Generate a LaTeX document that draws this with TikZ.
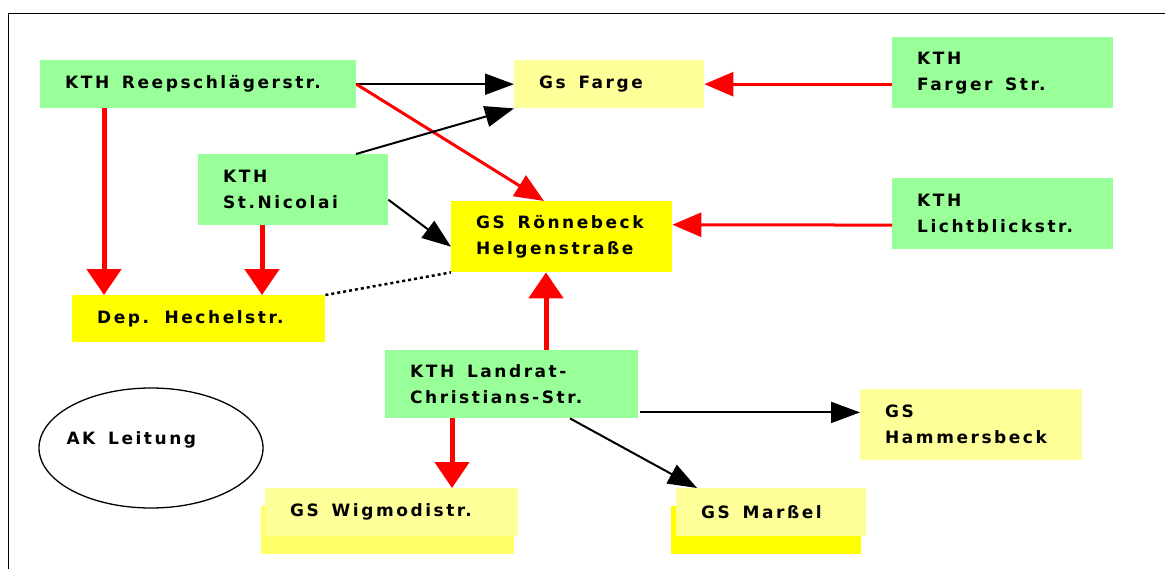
\documentclass[tikz,border=0pt]{standalone}
\usepackage{fontspec}
\setmainfont{DejaVu Sans}[LetterSpace=15, WordSpace=1.5]
\usepackage{tikz}
\usetikzlibrary{arrows.meta, positioning, calc, shapes.geometric, shadows}
\definecolor{cKth}{RGB}{153,255,153}
\definecolor{cGs}{RGB}{255,255,0}
\definecolor{cGsLight}{RGB}{255,255,153}
\definecolor{cShadow}{RGB}{255,255,102}
\tikzset{
	box/.style ={rectangle, anchor=north west, inner xsep=25pt, align=flush left, font=\fontsize{17}{26}\selectfont\bfseries},
	kth/.style ={box, fill=cKth},
	gs/.style  ={box, fill=cGs},
	gsl/.style ={box, fill=cGsLight},
	sig/.style ={-{Triangle[length=29pt, width=21pt]}, line width=2pt},
	rsig/.style={-{Triangle[length=29pt, width=24pt]}, line width=3pt, red},
	rbig/.style={-{Triangle[length=26pt, width=34pt]}, line width=5pt, red},
}
\begin{document}
\begin{tikzpicture}[x=1pt, y=-1pt]
	\useasboundingbox (0,0) rectangle (1165,568);
	\draw[line width=1.5pt] (8.5,590) |- (1190,13.5);
	\node[kth, text width=266pt, minimum height=48pt] (reep) at (40,60) {KTH Reepschlägerstr.};
	\node[gsl, text width=140pt, minimum height=48pt] (farge) at (514,60) {Gs Farge};
	\node[kth, text width=171pt, minimum height=71pt] (farger) at (892,37) {KTH\\Farger Str.};
	\node[kth, text width=171pt, minimum height=71pt, below=69pt of farger.south west, anchor=north west] (licht) {KTH\\Lichtblickstr.};
	\node[kth, text width=140pt, minimum height=71pt] (nico) at (198,154) {KTH\\St.Nicolai};
	\node[gs, text width=171pt, minimum height=71pt] (roen) at (451,201) {GS Rönnebeck\\Helgenstraße};
	\node[gs, text width=203pt, minimum height=47pt] (dep) at (72,295) {Dep. Hechelstr.};
	\node[kth, text width=203pt, minimum height=68pt] (land) at (385,350) {KTH Landrat-\\Christians-Str.};
	\node[gsl, text width=172pt, minimum height=71pt] (ham) at (860,389) {GS\\Hammersbeck};
	\node[gsl, general shadow={fill=cShadow, shadow xshift=-4pt, shadow yshift=-18pt}, text width=203pt, minimum height=48pt] (wig) at (265,488) {GS Wigmodistr.};
	\node[gsl, general shadow={fill=cGs, shadow xshift=-5pt, shadow yshift=-18pt}, text width=140pt, minimum height=48pt] (mar) at (676,488) {GS Marßel};
	\node[draw, ellipse, line width=1.3pt, minimum width=224pt, minimum height=120pt] (ak) at (151,448) {};
	\node[anchor=base west, inner sep=0pt, font=\fontsize{17}{26}\selectfont\bfseries] (akt) at ($(ak.west)+(28,-4)$) {AK Leitung};
	\draw[sig] (reep.east) -- (farge.west);
	\draw[rsig] (reep.east) -- ($(roen.north west)!0.42!(roen.north east)$);
	\draw[sig] ($(nico.north west)!0.83!(nico.north east)$) -- (farge.south west);
	\draw[sig] ($(nico.east)+(0,10)$) -- ($(roen.west)+(0,10)$);
	\draw[rbig] (reep.south west) ++(64,0) coordinate (r1) -- (r1 |- dep.north);
	\draw[rbig] (nico.south west) ++(64,0) coordinate (r2) -- (r2 |- dep.north);
	\draw[dash pattern=on 3pt off 3pt, line width=2.5pt] (dep.north east) -- (roen.south west);
	\draw[rbig] (land.north west) ++(161,0) coordinate (r3) -- (r3 |- roen.south);
	\draw[rsig] (farger.west |- farge.east) -- (farge.east);
	\draw[rsig] ($(licht.west)+(0,12)$) -- ($(roen.east)+(0,-12)$);
	\draw[sig] (land.south east) ++(2,-6) coordinate (b1) -- (b1 -| ham.west);
	\draw[sig] ($(land.south west)!0.73!(land.south east)$) -- ($(mar.north west)+(21,0)$);
	\draw[rbig] (land.south west) ++(67,0) coordinate (r4) -- (r4 |- wig.north);
\end{tikzpicture}
\end{document}
